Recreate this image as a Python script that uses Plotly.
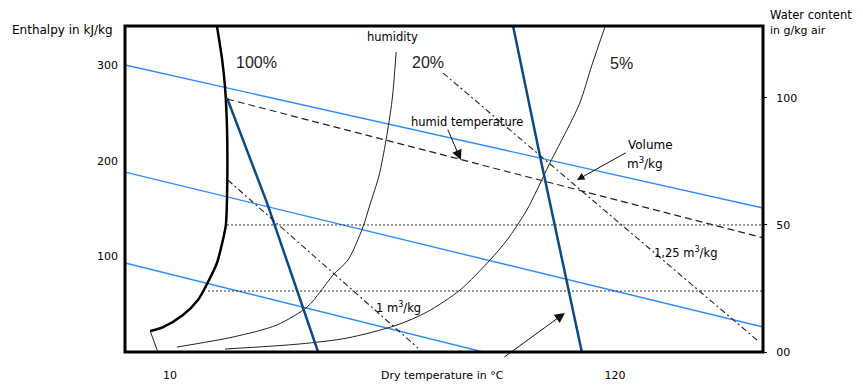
import plotly.graph_objects as go

# ---------------- data (dry temperature in °C, enthalpy in kJ/kg) ----------------
# saturation curve (100 % humidity)
sat_T = [21.6, 22.9, 23.6, 24.1, 24.1, 23.8, 22.9, 21.6, 19.4, 16.9, 13.2, 8.3, 5.1]
sat_H = [340.8, 305.2, 277.0, 232.0, 163.1, 132.7, 113.9, 93.0, 73.2, 54.4, 38.7, 26.1, 22.0]
sat_tail_T = [5.1, 7.0]
sat_tail_H = [22.0, 0.0]

# 20 % humidity curve
rh20_T = [65.9, 64.9, 63.4, 61.7, 59.4, 57.7, 54.0, 50.3, 47.1, 43.9, 36.4, 25.6, 11.7]
rh20_H = [313.6, 263.4, 221.6, 185.0, 153.7, 130.7, 96.2, 80.5, 62.7, 47.0, 28.2, 15.7, 5.2]

# 5 % humidity curve
rh5_T = [117.5, 114.3, 111.3, 108.1, 103.9, 100.7, 98.2, 93.3, 89.1, 81.7, 73.5, 66.1, 53.8, 42.1, 23.6]
rh5_H = [339.7, 300.0, 260.3, 232.0, 197.6, 169.3, 148.4, 117.1, 96.2, 64.8, 41.8, 28.2, 14.6, 8.4, 3.1]

# enthalpy lines (blue)
enth300_T = [-1.1, 156.6]
enth300_H = [300.0, 150.5]
enth190_T = [-1.1, 156.6]
enth190_H = [188.1, 26.1]
enth95_T = [-1.1, 87.4]
enth95_H = [93.0, 0.0]

# humid (wet bulb) temperature lines (dark blue)
wet1_T = [24.1, 34.0, 42.9, 46.6]
wet1_H = [265.5, 155.7, 46.0, 0.0]
wet2_T = [94.8, 101.5, 111.8]
wet2_H = [340.8, 203.8, 0.0]

# dashed humid temperature line
humid_T = [24.1, 156.6]
humid_H = [264.5, 119.3]

# specific volume lines (dash-dot)
vol1_T = [24.3, 71.3]
vol1_H = [179.8, 4.2]
vol125_T = [77.5, 155.1]
vol125_H = [291.6, 12.5]

# water content lines (dotted, g/kg air)
wc_values = [50, 24]
wc_start_T = [24.1, 19.4]
wc_end_T = 156.6

# pointer arrows (tail -> head)
arrow_humid_T = [78.5, 81.9]
arrow_humid_H = [234.1, 200.7]
arrow_volume_T = [123.0, 110.6]
arrow_volume_H = [209.1, 179.8]
arrow_bottom_T = [92.3, 107.6]
arrow_bottom_H = [-6.3, 40.8]

# axis ticks
x_ticks = [10, 120]
x_ticktext = ["10", "120"]
y_ticks = [100, 200, 300]
y_ticktext = ["100", "200", "300"]
y2_ticks = [0, 50, 100]
y2_ticktext = ["00", "50", "100"]

X_RANGE = [-1.124, 156.58]
Y_RANGE = [0, 340.8]
Y2_RANGE = [0, 128.3]

FONT = "DejaVu Sans, Verdana, sans-serif"
BLUE = "#2a8cff"
NAVY = "#0b4a88"

fig = go.Figure()

def line(x, y, color, width, dash="solid", shape="linear", yaxis="y"):
    fig.add_trace(go.Scatter(x=x, y=y, mode="lines", yaxis=yaxis,
                             line=dict(color=color, width=width, dash=dash, shape=shape, smoothing=0.8),
                             hoverinfo="skip", showlegend=False))

# water content (dotted)
for v, t0 in zip(wc_values, wc_start_T):
    line([t0, wc_end_T], [v, v], "#333333", 1, dash="2px,2px", yaxis="y2")

# enthalpy lines
line(enth300_T, enth300_H, BLUE, 1.4)
line(enth190_T, enth190_H, BLUE, 1.4)
line(enth95_T, enth95_H, BLUE, 1.4)

# humidity curves
line(rh20_T, rh20_H, "#222222", 1, shape="spline")
line(rh5_T, rh5_H, "#222222", 1, shape="spline")
line(sat_T, sat_H, "black", 2.5, shape="spline")
line(sat_tail_T, sat_tail_H, "#222222", 1)

# humid temperature lines
line(wet1_T, wet1_H, NAVY, 2.5)
line(wet2_T, wet2_H, NAVY, 2.5)
line(humid_T, humid_H, "#222222", 1.2, dash="7px,4px")

# volume lines
line(vol1_T, vol1_H, "#222222", 1.1, dash="6px,3px,2px,3px")
line(vol125_T, vol125_H, "#222222", 1.1, dash="6px,3px,2px,3px")

ann = []
def txt(x, y, s, size=11, xref="x", yref="y", xanchor="center", family=FONT, color="black"):
    ann.append(dict(x=x, y=y, xref=xref, yref=yref, text=s, showarrow=False,
                    xanchor=xanchor, yanchor="middle",
                    font=dict(family=family, size=size, color=color)))

def arrow(xs, ys, size):
    ann.append(dict(x=xs[1], y=ys[1], ax=xs[0], ay=ys[0], xref="x", yref="y",
                    axref="x", ayref="y", text="", showarrow=True, arrowhead=2,
                    arrowsize=size, arrowwidth=1, arrowcolor="#111111",
                    standoff=0, startstandoff=0))

# pointer arrows
arrow(arrow_humid_T, arrow_humid_H, 2.0)
arrow(arrow_volume_T, arrow_volume_H, 1.5)
arrow(arrow_bottom_T, arrow_bottom_H, 2.0)

# in-plot labels
txt(31.3, 303.1, "100%", size=16, family="Liberation Sans, Arial, sans-serif", color="#222222")
txt(73.8, 303.1, "20%", size=16, family="Liberation Sans, Arial, sans-serif", color="#222222")
txt(121.5, 302.1, "5%", size=16, family="Liberation Sans, Arial, sans-serif", color="#222222")
txt(64.9, 329.3, "humidity", size=11.5)
txt(83.3, 240.4, "humid temperature", size=11.5)
txt(122.7, 216.4, "Volume", size=12, xanchor="left")
txt(122.5, 197.6, "m<sup>3</sup>/kg", size=12, xanchor="left")
txt(66.6, 47.0, "1 m<sup>3</sup>/kg", size=11.5)
txt(137.3, 103.5, "1,25 m<sup>3</sup>/kg", size=11.5)

# outside labels
txt(-0.016, 0.988, "Enthalpy in kJ/kg", size=12, xref="paper", yref="paper", xanchor="right")
txt(1.008, 1.034, "Water content", size=11.5, xref="paper", yref="paper", xanchor="left")
txt(1.008, 0.985, "in g/kg air", size=11, xref="paper", yref="paper", xanchor="left")
txt(0.497, -0.0736, "Dry temperature in °C", size=11, xref="paper", yref="paper")

fig.update_layout(
    width=863, height=387,
    margin=dict(l=117, r=108, t=18, b=43),
    paper_bgcolor="white", plot_bgcolor="white",
    font=dict(family=FONT, size=11, color="black"),
    annotations=ann,
    shapes=[dict(type="rect", xref="paper", yref="paper", x0=0, x1=1, y0=0, y1=1,
                 line=dict(color="black", width=3))],
    xaxis=dict(range=X_RANGE, showgrid=False, zeroline=False, showline=False,
               tickvals=x_ticks, ticktext=x_ticktext, ticks="", ticklabelstandoff=15,
               tickfont=dict(size=11)),
    yaxis=dict(range=Y_RANGE, showgrid=False, zeroline=False, showline=False,
               tickvals=y_ticks, ticktext=y_ticktext, ticks="", ticklabelstandoff=6,
               tickfont=dict(size=11)),
    yaxis2=dict(range=Y2_RANGE, overlaying="y", side="right", showgrid=False, zeroline=False,
                showline=False, tickvals=y2_ticks, ticktext=y2_ticktext, ticks="outside",
                ticklen=3, tickcolor="black", ticklabelstandoff=7, tickfont=dict(size=11)),
)

fig.write_html("out.html")
